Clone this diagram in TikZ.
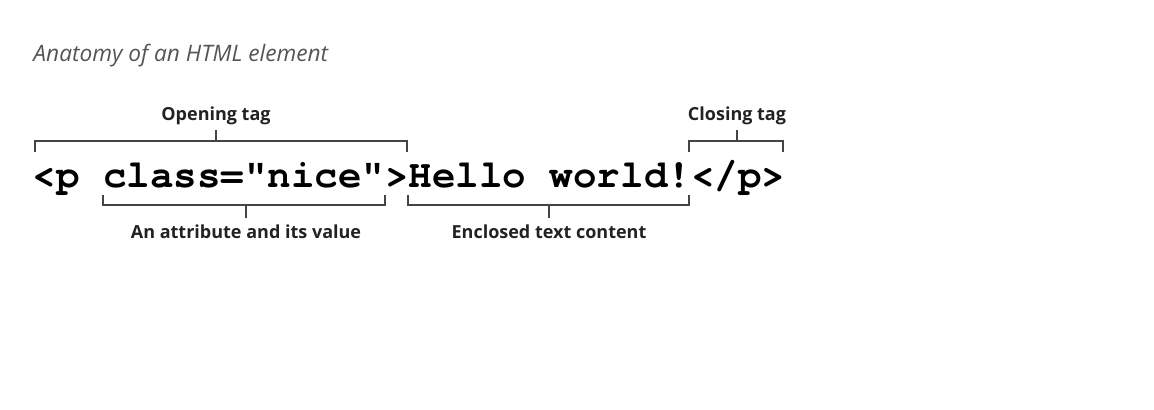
\documentclass[tikz,border=0pt]{standalone}
\usepackage{fontspec}
\setmainfont{Open Sans}
\newfontfamily\codefont{TeX Gyre Cursor}
\usetikzlibrary{positioning}

\definecolor{titlegray}{RGB}{85,85,85}
\definecolor{bracketgray}{RGB}{68,68,68}
\definecolor{labelblack}{RGB}{34,34,34}

\tikzset{every picture/.style={line width=0.75pt}}
\tikzset{
  code/.style={anchor=base west, inner sep=0pt, font=\codefont\bfseries\fontsize{29.4}{30}\selectfont},
  tag label/.style={anchor=base, inner sep=0pt, text=labelblack, font=\bfseries\fontsize{13.5}{15}\selectfont},
  bracket/.style={draw=bracketgray, line width=1pt}
}

\begin{document}
\begin{tikzpicture}[x=0.75pt,y=0.75pt,yscale=-1,xscale=1]
\useasboundingbox (0,0) rectangle (1154,410);

% title
\node[anchor=base west, inner sep=0pt, text=titlegray, font=\itshape\fontsize{17}{20}\selectfont] (title) at (33,62) {Anatomy of an HTML element};

% the element, one node per part (23.52 per character)
\node[code] (ltp) at (32,187) {<p};
\node[code] (attr) at (102.6,187) {class="nice"};
\node[code] (gt) at (384.8,187) {>};
\node[code] (content) at (408.3,187) {Hello world!};
\node[code] (close) at (690.6,187) {</p>};

% labels
\node[tag label] (ot-label) at (216,121) {Opening tag};
\node[tag label] (ct-label) at (737,121) {Closing tag};
\node[tag label] (at-label) at (246,238) {An attribute and its value};
\node[tag label] (tx-label) at (549,238) {Enclosed text content};

% opening tag bracket
\coordinate (ot-l) at (35,152);
\coordinate (ot-top) at (216,141);
\coordinate (ot-r) at (407,152);
\draw[bracket] (ot-l) |- (ot-top) -| (ot-r);
\draw[bracket] (ot-top) -- ++(0,-11);

% closing tag bracket
\coordinate (ct-l) at (689,152);
\coordinate (ct-top) at (737,141);
\coordinate (ct-r) at (783,152);
\draw[bracket] (ct-l) |- (ct-top) -| (ct-r);
\draw[bracket] (ct-top) -- ++(0,-11);

% attribute bracket
\coordinate (at-l) at (103,195);
\coordinate (at-bot) at (246,205);
\coordinate (at-r) at (385,195);
\draw[bracket] (at-l) |- (at-bot) -| (at-r);
\draw[bracket] (at-bot) -- ++(0,13);

% text content bracket
\coordinate (tx-l) at (408,195);
\coordinate (tx-bot) at (549,205);
\coordinate (tx-r) at (689,195);
\draw[bracket] (tx-l) |- (tx-bot) -| (tx-r);
\draw[bracket] (tx-bot) -- ++(0,13);
\end{tikzpicture}
\end{document}
